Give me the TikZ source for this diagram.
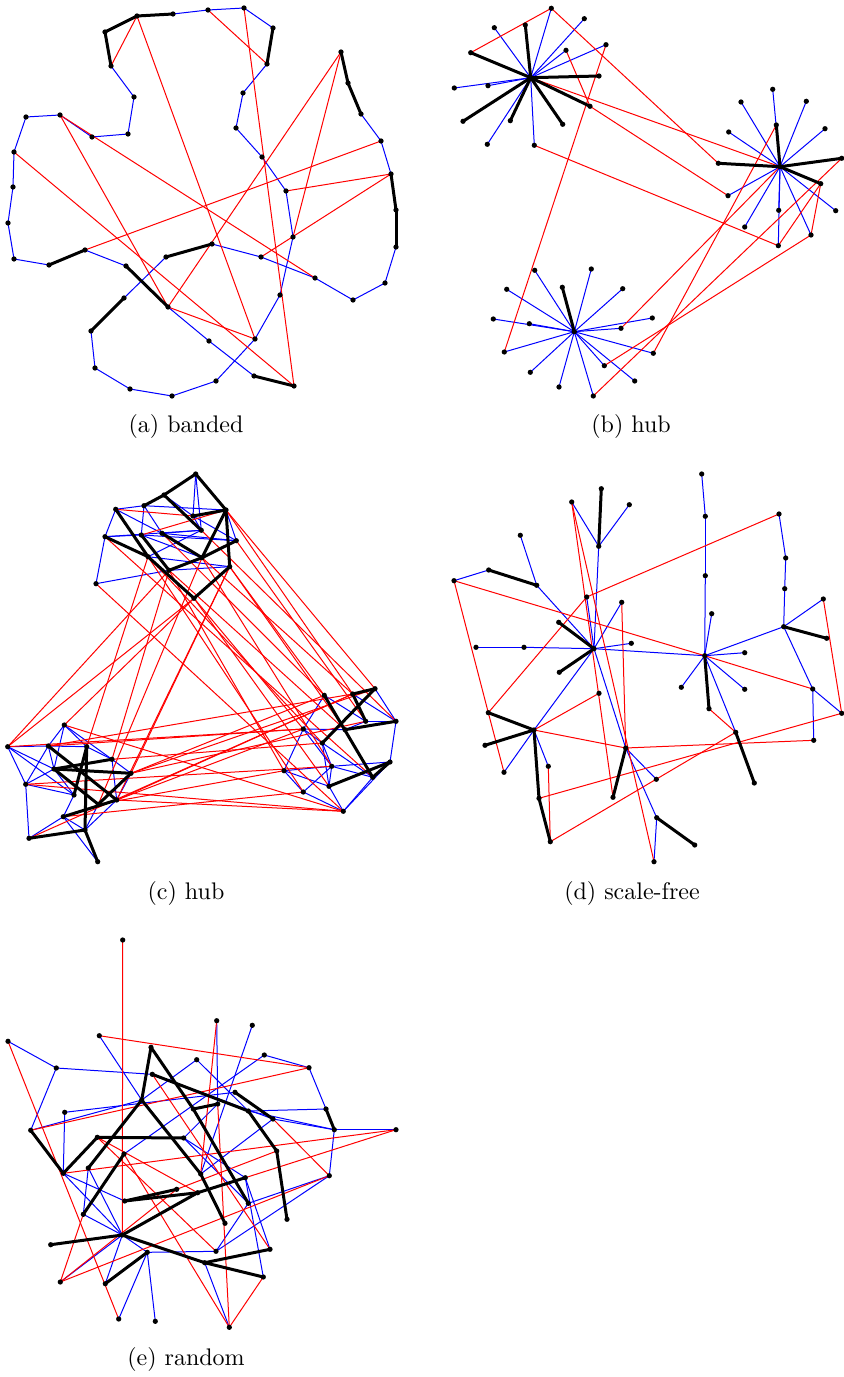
\documentclass[tikz,border=0pt]{standalone}
\pgfdeclarelayer{edges}
\pgfsetlayers{edges,main}
\tikzset{
  dot/.style={circle,fill=black,inner sep=0pt,minimum size=2.1pt},
  bl/.style={draw=blue,line width=0.4pt},
  rd/.style={draw=red,line width=0.4pt},
  bk/.style={draw=black,line width=1.2pt,line cap=round},
  caption/.style={font=\fontsize{9.6}{11}\selectfont}
}
\newcommand{\placedots}[1]{\foreach \n/\px/\py in {#1} \node[dot] (\n) at (\px,\py) {};}
\newcommand{\linkall}[2]{\begin{pgfonlayer}{edges}\foreach \u/\v in {#2} \draw[#1] (\u.center)--(\v.center);\end{pgfonlayer}}
\begin{document}
\begin{tikzpicture}[x=0.4pt,y=-0.4pt]
\useasboundingbox (0,0) rectangle (844,1377);

% ---------------- (a) banded ----------------
\placedots{a1/105/32, a2/137/16, a3/173/14, a4/208/10, a5/244/8, a6/273/28, a7/267/64, a8/243/93, a9/236/128, a10/262/157, a11/286/191, a12/293/237, a13/280/295, a14/255/339, a15/216/381, a16/172/396, a17/130/389, a18/95/368, a19/91/331, a20/124/298, a21/166/257, a22/212/244, a23/261/257, a24/315/278, a25/353/300, a26/385/283, a27/396/247, a28/396/210, a29/391/174, a30/381/141, a31/361/114, a32/348/83, a33/341/52, a34/111/66, a35/134/97, a36/128/134, a37/92/137, a38/60/115, a39/26/117, a40/14/152, a41/13/187, a42/8/223, a43/14/259, a44/49/265, a45/85/250, a46/126/266, a47/168/307, a48/209/341, a49/254/376, a50/294/386}
\linkall{bl}{a3/a4, a4/a5, a5/a6, a7/a8, a8/a9, a9/a10, a10/a11, a11/a12, a12/a13, a13/a14, a14/a15, a15/a16, a16/a17, a17/a18, a18/a19, a20/a21, a22/a23, a23/a24, a24/a25, a25/a26, a26/a27, a29/a30, a30/a31, a34/a35, a35/a36, a36/a37, a37/a38, a38/a39, a39/a40, a40/a41, a41/a42, a42/a43, a43/a44, a45/a46, a47/a48, a48/a49}
\linkall{rd}{a34/a2, a2/a14, a4/a7, a5/a50, a33/a47, a33/a12, a30/a45, a29/a11, a29/a23, a38/a24, a38/a47, a40/a50, a47/a14}
\linkall{bk}{a34/a1, a1/a2, a2/a3, a6/a7, a19/a20, a21/a22, a27/a28, a28/a29, a31/a32, a32/a33, a44/a45, a46/a47, a49/a50}
\node[caption] (capa) at (186,427) {(a) banded};

% ---------------- (b) hub ----------------
\placedots{bh1/530.7/77.7, bh2/780/166.7, bh3/574.3/331.7,
 b1/551.3/8.3, b2/494.3/27.7, b3/525.3/25, b4/584.3/18.7, b5/470.7/52.7, b6/566/50.3, b7/606/44.7, b8/599/76, b9/454.3/88, b10/488/85.7, b11/590/106.3, b12/463/121.3, b13/510.3/120.7, b14/562.7/124.3, b15/487.3/144.3, b16/534.3/145.3,
 c1/772.7/89.3, c2/741/102, c3/806.3/101.3, c4/776.3/125, c5/728.7/132, c6/825/128.7, c7/718.3/163.3, c8/841.7/158.3, c9/820.7/183.7, c10/728/195.7, c11/835.7/210.7, c12/778.7/210.3, c13/744.7/227, c14/811/235, c15/778.3/245.7,
 d1/534.7/270.3, d2/591.3/269, d3/562.3/287.3, d4/622.7/288.7, d5/506.7/289.3, d6/493.3/319, d7/529.3/323.7, d8/621/328.3, d9/652.3/318, d10/504.3/352, d11/653.3/353.3, d12/604.3/365.7, d13/530.3/372.3, d14/559/387, d15/634.7/381, d16/593.3/396}
\linkall{bl}{bh1/b1, bh1/b2, bh1/b4, bh1/b6, bh1/b7, bh1/b9, bh1/b10, bh1/b15, bh1/b16,
 bh2/c1, bh2/c2, bh2/c3, bh2/c5, bh2/c6, bh2/c10, bh2/c11, bh2/c12, bh2/c13, bh2/c14, bh2/c15,
 bh3/d1, bh3/d2, bh3/d4, bh3/d5, bh3/d6, bh3/d7, bh3/d8, bh3/d9, bh3/d10, bh3/d11, bh3/d12, bh3/d13, bh3/d14, bh3/d15, bh3/d16}
\linkall{rd}{b5/b1, b1/c7, b6/b11, b7/d10, bh1/bh2, b11/c10, b16/c15, c4/d11, bh2/d8, c8/d16, c14/d12, c9/c14, c9/c15}
\linkall{bk}{bh1/b3, bh1/b5, bh1/b8, bh1/b11, bh1/b12, bh1/b13, bh1/b14, bh2/c4, bh2/c7, bh2/c8, bh2/c9, bh3/d3}
\node[caption] (capb) at (631,427) {(b) hub};

% ---------------- (c) hub ----------------
\placedots{t1/195.7/474, t2/164/495, t3/144/505.7, t4/115.7/509.3, t5/226/510, t6/193/516, t7/201.3/530.3, t8/105/536.7, t9/141.3/535, t10/162/533.3, t11/236.3/540.7, t12/148/556.7, t13/202/557.7, t14/169/570.3, t15/229.7/566.7, t16/96/583.7, t17/194/598.3,
 l1/64.3/725, l2/7.7/746.7, l3/48.3/746, l4/86.7/746.7, l5/112/759.3, l6/54/769, l7/131/773.3, l8/25.7/784.3, l9/74/795, l10/116.7/800, l11/98.3/804.3, l12/63.3/816.7, l13/85/830, l14/29/838.3, l15/97.7/861.7,
 r1/324.3/695.3, r2/352.7/694, r3/375/688.7, r4/365.7/721.3, r5/396/721.3, r6/303.3/729, r7/345/729.7, r8/322.3/743, r9/331.7/766.3, r10/390/762, r11/284/770.7, r12/372.7/777.3, r13/329/786.3, r14/303.3/792, r15/343.3/811.3}
\linkall{bl}{t4/t3, t4/t8, t8/t16, t16/t14, t3/t5, t2/t6, t3/t9, t3/t10, t8/t9, t8/t7, t9/t11, t10/t11, t1/t6, t1/t7, t6/t11, t5/t11, t12/t15, t14/t15, t7/t12, t10/t7, t4/t10, t9/t13, t6/t7,
 l2/l3, l2/l8, l2/l6, l8/l3, l8/l14, l14/l12, l12/l15, l1/l3, l1/l4, l1/l5, l1/l6, l3/l6, l3/l4, l4/l5, l5/l7, l5/l10, l7/l10, l8/l9, l8/l6, l12/l9, l13/l10, l6/l9, l11/l13, l12/l13, l2/l9,
 r6/r1, r6/r11, r6/r8, r6/r7, r11/r14, r14/r15, r13/r15, r15/r12, r9/r13, r8/r9, r9/r12, r11/r9, r5/r10, r3/r5, r2/r5, r1/r4, r4/r5, r14/r9, r11/r13, r8/r13, r6/r9, r10/r15, r4/r7, r8/r12, r9/r10, r1/r7}
\linkall{rd}{t4/t6, t9/t5,
 t5/r2, t5/r3, t11/r4, t15/r1, t15/r7, t13/r2, t17/r6, t12/r8, t14/r11, t14/r7, t17/r13, t13/r9, t16/r15, t7/r5, t12/r14, t10/r1, t8/r12,
 t17/l2, t14/l2, t17/l1, t13/l11, t15/l10, t15/l7, t12/l4, t14/l5,
 l2/r6, l3/r2, l3/r6, l1/r15, l7/r4, l7/r1, l10/r6, l10/r2, l10/r15, l8/r15, l5/r8, l11/r11, l12/r14, l7/r3, l14/r2, l8/r9}
\linkall{bk}{t1/t2, t2/t3, t1/t5, t2/t7, t6/t5, t5/t13, t5/t15, t11/t13, t10/t13, t9/t14, t14/t13, t15/t17, t4/t12, t8/t12, t12/t17,
 l3/l10, l4/l13, l4/l9, l5/l6, l7/l6, l6/l11, l7/l11, l14/l13, l12/l10, l13/l15,
 r1/r12, r2/r3, r2/r4, r3/r8, r7/r5, r12/r10, r13/r10}
\node[caption] (capc) at (186,893) {(c) hub};

% ---------------- (d) scale-free ----------------
\placedots{s1/701.7/474, s2/601.3/488.7, s3/571.7/502, s4/629.3/504.7, s5/779/514, s6/705.3/516.3, s7/520.3/535.3, s8/598.7/546.3, s9/785.7/558, s10/488.7/570, s11/454/580.7, s12/705.3/575.7, s13/536.7/585.3, s14/784.7/588.7, s15/586.7/597, s16/621.7/602.3, s17/823.3/599, s18/711.7/613.7, s19/558.7/622.3, s20/783.7/626.7, s21/826.7/638.3, s22/476/647.3, s23/524/647.3, s24/594/648.7, s25/631.3/643.3, s26/704.7/655.7, s27/744.7/652.7, s28/559.3/672.3, s29/681.3/687.3, s30/744.7/689.3, s31/599/693.3, s32/812.7/689, s33/709/708.7, s34/488.3/712.7, s35/841.7/713.3, s36/534/730, s37/735.7/732.3, s38/813.7/740.3, s39/485/745.3, s40/625.7/748, s41/548.3/766.3, s42/504/772.3, s43/656.3/779.3, s44/754.3/783, s45/539/798.3, s46/613/797.3, s47/656.7/817.7, s48/550.3/841.7, s49/694.7/845, s50/654/861.7}
\linkall{bl}{s1/s6, s6/s12, s12/s26, s18/s26, s3/s8, s4/s8, s8/s24, s7/s13, s10/s11, s13/s24, s22/s23, s23/s24, s24/s25, s16/s24, s15/s24, s24/s26, s24/s36, s24/s40, s40/s43, s40/s47, s47/s50, s26/s27, s26/s29, s26/s30, s26/s37, s26/s20, s5/s9, s9/s14, s14/s20, s20/s17, s20/s32, s32/s35, s32/s38, s36/s41, s36/s42}
\linkall{rd}{s11/s26, s26/s32, s11/s34, s34/s42, s34/s15, s15/s5, s3/s46, s3/s50, s16/s40, s31/s36, s36/s40, s40/s38, s33/s37, s37/s48, s35/s45, s41/s48, s17/s35}
\linkall{bk}{s2/s8, s10/s13, s19/s24, s28/s24, s26/s33, s37/s44, s20/s21, s36/s34, s36/s39, s36/s45, s45/s48, s40/s46, s47/s49}
\node[caption] (capd) at (632,893) {(d) scale-free};

% ---------------- (e) random ----------------
\placedots{e1/122.7/940, e2/216.7/1020.7, e3/252.3/1025.3, e4/99.3/1035.7, e5/8/1041.3, e6/151/1047.3, e7/264.3/1055, e8/196.7/1059.7, e9/56.3/1068, e10/309/1067.7, e11/152.3/1074.3, e12/235/1092.3, e13/141.7/1100, e14/217.7/1104, e15/193.3/1109, e16/64.7/1112.3, e17/248.3/1111, e18/326/1109, e19/273/1119, e20/30.7/1130.3, e21/334.3/1129.7, e22/396/1129.7, e23/97.3/1137.3, e24/183.7/1138, e25/276.7/1151, e26/124/1154, e27/63.3/1173.3, e28/88.3/1168, e29/200.7/1174, e30/245.3/1177.7, e31/329.3/1175.7, e32/176.7/1189.3, e33/197.7/1192.7, e34/124.7/1201, e35/248.3/1203.3, e36/83.3/1214.3, e37/225/1223.3, e38/287/1219.3, e39/122.3/1235, e40/50.7/1244.7, e41/147.3/1252.3, e42/216/1251.3, e43/270/1249.3, e44/204.7/1262.7, e45/60.3/1282, e46/105.3/1283.7, e47/263.3/1277, e48/118.7/1319, e49/155.3/1321.3, e50/229.3/1327.3}
\linkall{bl}{e5/e9, e9/e20, e9/e11, e4/e13, e13/e8, e8/e17, e16/e12, e16/e27, e7/e10, e10/e18, e18/e17, e17/e21, e21/e31, e2/e14, e3/e29, e26/e7, e22/e21, e31/e35, e19/e21, e24/e35, e27/e34, e27/e39, e28/e39, e28/e36, e36/e39, e39/e45, e39/e46, e39/e41, e41/e48, e41/e49, e41/e42, e42/e35, e42/e31, e44/e50, e43/e30, e47/e30, e29/e19, e24/e30, e11/e19, e20/e13, e24/e14}
\linkall{rd}{e1/e39, e4/e10, e5/e48, e20/e10, e27/e22, e22/e30, e2/e29, e11/e43, e45/e31, e45/e36, e45/e32, e47/e50, e14/e50, e50/e26, e23/e42, e19/e31, e25/e32, e23/e33}
\linkall{bk}{e6/e13, e6/e15, e15/e14, e15/e35, e11/e17, e17/e25, e25/e38, e12/e19, e13/e28, e13/e29, e29/e37, e23/e24, e23/e27, e20/e27, e26/e36, e34/e32, e34/e33, e33/e30, e39/e33, e40/e39, e39/e44, e44/e43, e44/e47, e41/e46, e21/e18}
\node[caption] (cape) at (186,1359) {(e) random};
\end{tikzpicture}
\end{document}
